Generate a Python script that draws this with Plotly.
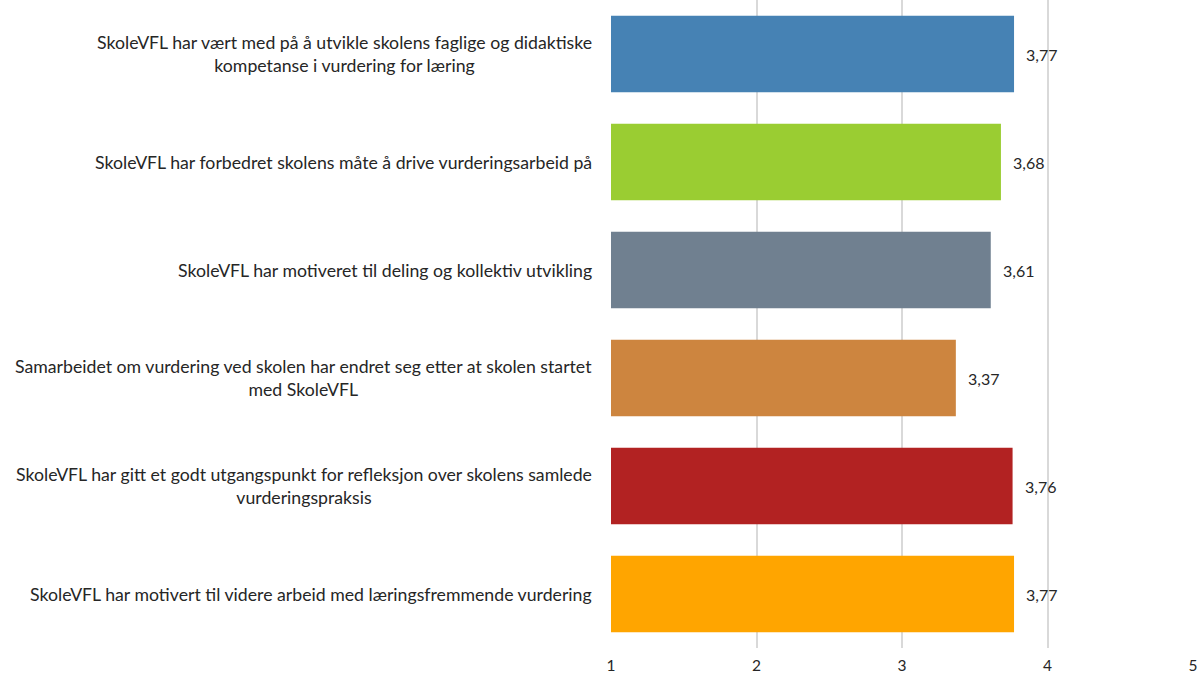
import plotly.graph_objects as go

categories = [
    "SkoleVFL har vært med på å utvikle skolens faglige og didaktiske<br>kompetanse i vurdering for læring",
    "SkoleVFL har forbedret skolens måte å drive vurderingsarbeid på",
    "SkoleVFL har motiveret til deling og kollektiv utvikling",
    "Samarbeidet om vurdering ved skolen har endret seg etter at skolen startet<br>med SkoleVFL",
    "SkoleVFL har gitt et godt utgangspunkt for refleksjon over skolens samlede<br>vurderingspraksis",
    "SkoleVFL har motivert til videre arbeid med læringsfremmende vurdering",
]
values = [3.77, 3.68, 3.61, 3.37, 3.76, 3.77]
colors = ["#4682B4", "#9ACD32", "#708090", "#CD853F", "#B22222", "#FFA500"]
tick_vals = [1, 2, 3, 4, 5]

W, H = 1204, 675
ml, mr, mt, mb = 611, 11, 0, 27
pw = W - ml - mr
FONT = "Lato, Open Sans, sans-serif"

ids = [f"c{i}" for i in range(len(categories))]

fig = go.Figure()
fig.add_trace(go.Bar(
    y=ids, x=values, orientation="h",
    marker=dict(color=colors, line=dict(width=0)),
    hoverinfo="skip",
))

for cid, label, v in zip(ids, categories, values):
    fig.add_annotation(
        x=-17 / pw, xref="paper", y=cid, yref="y",
        text=label, showarrow=False, xanchor="right", yanchor="middle",
        align="center",
        font=dict(family=FONT, size=17.7, color="#262626"),
    )
    fig.add_annotation(
        x=v, xref="x", y=cid, yref="y",
        text=f"{v:.2f}".replace(".", ","), showarrow=False,
        xanchor="left", yanchor="middle", xshift=10,
        font=dict(family=FONT, size=16, color="#262626"),
    )

fig.update_layout(
    width=W, height=H,
    margin=dict(l=ml, r=mr, t=mt, b=mb, autoexpand=False),
    plot_bgcolor="white", paper_bgcolor="white",
    showlegend=False, bargap=0.29,
    separators=",.",
    xaxis=dict(range=[1, 5], tickvals=tick_vals, showgrid=True, gridcolor="#d9d9d9",
               gridwidth=2, zeroline=False, showline=False, automargin=False,
               ticks="outside", ticklen=3, tickcolor="rgba(0,0,0,0)",
               tickfont=dict(family=FONT, size=15.5, color="#262626")),
    yaxis=dict(autorange="reversed", showticklabels=False, showgrid=False,
               zeroline=False, showline=False, automargin=False),
)

fig.write_html(
    "out.html",
    config={"displayModeBar": False},
    post_script="document.body.style.margin='0';document.body.style.overflow='hidden';",
)
